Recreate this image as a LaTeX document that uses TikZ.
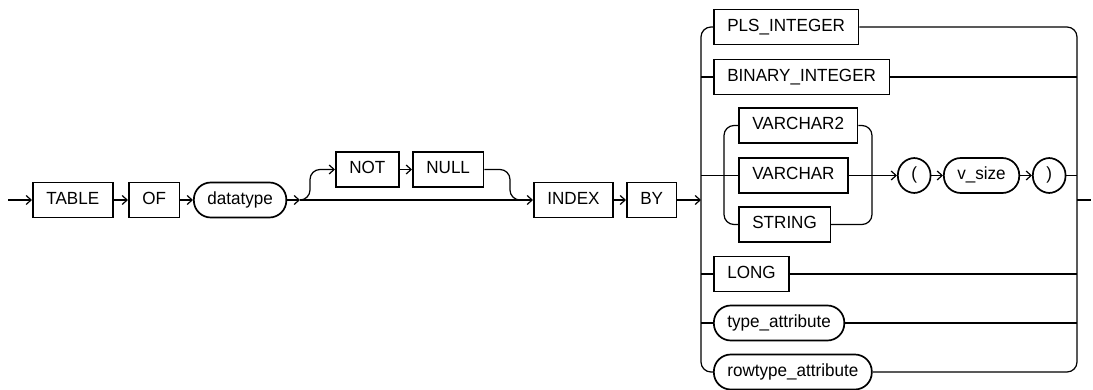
\documentclass[tikz,border=0pt]{standalone}
\usepackage{fontspec}
\setmainfont{Liberation Sans}[FakeStretch=0.97]
\usetikzlibrary{arrows.meta}

\begin{document}
\begin{tikzpicture}[x=1pt,y=-1pt,
    kw/.style={draw,line width=1.7pt,minimum height=35pt,inner xsep=13.5pt,
        text height=12.5pt,text depth=3.5pt,anchor=west,font=\fontsize{17.6}{20}\selectfont},
    nt/.style={kw,rounded corners=17pt},
    rail/.style={line width=1.2pt},
    arr/.style={rail,-{Straight Barb[length=5pt,width=9pt]}},
    curvy/.style={rail,rounded corners=10pt}]

\useasboundingbox (0,0) rectangle (1093,390);

% main line
\coordinate (start) at (8,200);
\node[kw] (table) at (32,200) {TABLE};
\node[kw] (of) at (128,200) {OF};
\node[nt] (datatype) at (193,200) {datatype};
\coordinate (split) at (300,200);
\node[kw] (not) at (335,169.5) {NOT};
\node[kw] (null) at (412,169.5) {NULL};
\node[kw] (index) at (533,200) {INDEX};
\node[kw] (by) at (626,200) {BY};

\draw[arr] (start) -- (table);
\draw[arr] (table) -- (of);
\draw[arr] (of) -- (datatype);
\draw[arr] (datatype) -- (split);
\draw[arr] (split) -- (index);
\draw[arr] (index) -- (by);

% optional NOT NULL
\draw[curvy,-{Straight Barb[length=5pt,width=9pt]}] (split) -| (310,169.5) -- (not.west);
\draw[arr] (not) -- (null);
\draw[curvy] (null.east) -| (510,200) -- (520,200);

% index types
\coordinate (lbus) at (701,200);
\coordinate (rbus) at (1077,200);
\coordinate (finish) at (1091,200);
\node[kw] (pls) at (713,27) {PLS\_INTEGER};
\node[kw] (binary) at (713,77) {BINARY\_INTEGER};
\node[kw] (varchartwo) at (738,125.5) {VARCHAR2};
\node[kw] (varchar) at (738,175.5) {VARCHAR};
\node[kw] (string) at (738,224.5) {STRING};
\node[nt] (lparen) at (897,175.5) {(};
\node[nt] (vsize) at (943,175.5) {v\_size};
\node[nt] (rparen) at (1032,175.5) {)};
\node[kw] (long) at (713,274) {LONG};
\node[nt] (typeattr) at (713,323) {type\_attribute};
\node[nt] (rowtypeattr) at (713,372) {rowtype\_attribute};

\draw[arr] (by) -- (lbus);
\draw[curvy] (pls.west) -| (lbus) |- (rowtypeattr.west);
\draw[curvy] (pls.east) -| (rbus) |- (rowtypeattr.east);
\draw[rail] (rbus) -- (finish);

\draw[rail] (701,77) -- (binary.west);
\draw[rail] (binary.east) -- (1077,77);
\draw[rail] (701,274) -- (long.west);
\draw[rail] (long.east) -- (1077,274);
\draw[rail] (701,323) -- (typeattr.west);
\draw[rail] (typeattr.east) -- (1077,323);

% string types
\draw[rail] (701,175.5) -- (varchar.west);
\draw[curvy] (varchartwo.west) -| (724,175.5) |- (string.west);
\draw[curvy] (varchartwo.east) -| (872,175.5) |- (string.east);
\draw[arr] (varchar) -- (lparen);
\draw[arr] (lparen) -- (vsize);
\draw[arr] (vsize) -- (rparen);
\draw[rail] (rparen.east) -- (1077,175.5);

\end{tikzpicture}
\end{document}
